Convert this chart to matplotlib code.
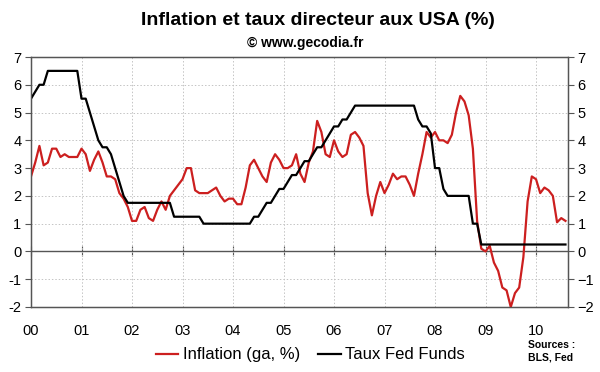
import matplotlib
matplotlib.use("Agg")
import matplotlib.pyplot as plt
import numpy as np

plt.rcParams['font.family'] = ['Liberation Sans', 'DejaVu Sans']

# Monthly data, Jan 2000 -> Aug 2010
inflation = [
    2.7, 3.2, 3.8, 3.1, 3.2, 3.7, 3.7, 3.4, 3.5, 3.4, 3.4, 3.4,   # 2000
    3.7, 3.5, 2.9, 3.3, 3.6, 3.2, 2.7, 2.7, 2.6, 2.1, 1.9, 1.6,   # 2001
    1.1, 1.1, 1.5, 1.6, 1.2, 1.1, 1.5, 1.8, 1.5, 2.0, 2.2, 2.4,   # 2002
    2.6, 3.0, 3.0, 2.2, 2.1, 2.1, 2.1, 2.2, 2.3, 2.0, 1.8, 1.9,   # 2003
    1.9, 1.7, 1.7, 2.3, 3.1, 3.3, 3.0, 2.7, 2.5, 3.2, 3.5, 3.3,   # 2004
    3.0, 3.0, 3.1, 3.5, 2.8, 2.5, 3.2, 3.6, 4.7, 4.3, 3.5, 3.4,   # 2005
    4.0, 3.6, 3.4, 3.5, 4.2, 4.3, 4.1, 3.8, 2.1, 1.3, 2.0, 2.5,   # 2006
    2.1, 2.4, 2.8, 2.6, 2.7, 2.7, 2.4, 2.0, 2.8, 3.5, 4.3, 4.1,   # 2007
    4.3, 4.0, 4.0, 3.9, 4.2, 5.0, 5.6, 5.4, 4.9, 3.7, 1.1, 0.1,   # 2008
    0.0, 0.2, -0.4, -0.7, -1.3, -1.4, -2.0, -1.5, -1.3, -0.2, 1.8, 2.7,  # 2009
    2.6, 2.1, 2.3, 2.2, 2.0, 1.05, 1.2, 1.1,                      # 2010
]
fed_funds = [
    5.5, 5.75, 6.0, 6.0, 6.5, 6.5, 6.5, 6.5, 6.5, 6.5, 6.5, 6.5,
    5.5, 5.5, 5.0, 4.5, 4.0, 3.75, 3.75, 3.5, 3.0, 2.5, 2.0, 1.75,
    1.75, 1.75, 1.75, 1.75, 1.75, 1.75, 1.75, 1.75, 1.75, 1.75, 1.25, 1.25,
    1.25, 1.25, 1.25, 1.25, 1.25, 1.0, 1.0, 1.0, 1.0, 1.0, 1.0, 1.0,
    1.0, 1.0, 1.0, 1.0, 1.0, 1.25, 1.25, 1.5, 1.75, 1.75, 2.0, 2.25,
    2.25, 2.5, 2.75, 2.75, 3.0, 3.25, 3.25, 3.5, 3.75, 3.75, 4.0, 4.25,
    4.5, 4.5, 4.75, 4.75, 5.0, 5.25, 5.25, 5.25, 5.25, 5.25, 5.25, 5.25,
    5.25, 5.25, 5.25, 5.25, 5.25, 5.25, 5.25, 5.25, 4.75, 4.5, 4.5, 4.25,
    3.0, 3.0, 2.25, 2.0, 2.0, 2.0, 2.0, 2.0, 2.0, 1.0, 1.0, 0.25,
    0.25, 0.25, 0.25, 0.25, 0.25, 0.25, 0.25, 0.25, 0.25, 0.25, 0.25, 0.25,
    0.25, 0.25, 0.25, 0.25, 0.25, 0.25, 0.25, 0.25,
]
year_labels = ["00", "01", "02", "03", "04", "05", "06", "07", "08", "09", "10"]

months = np.arange(len(inflation))
red = "#cc1f1f"
frame = "#555555"

fig = plt.figure(figsize=(6, 3.72), dpi=100)
ax = fig.add_axes([31 / 600, 1 - 307 / 372, 537 / 600, 250 / 372])

ax.plot(months, inflation, color=red, lw=1.6, label="Inflation (ga, %)", zorder=3)
ax.plot(months, fed_funds, color="black", lw=1.6, label="Taux Fed Funds", zorder=3)

ax.set_xlim(0, 127.6)
ax.set_ylim(-2, 7)
ax.set_yticks(range(-2, 8))
ax.set_yticklabels([str(v) for v in range(-2, 8)])
ax.set_xticks(np.arange(len(year_labels)) * 12)
ax.set_xticklabels(year_labels)
ax.tick_params(axis="x", length=0, pad=12, labelsize=10.5)
ax.tick_params(axis="y", direction="out", length=4, color=frame, labelsize=10.5, pad=3)
ax.grid(True, color="#c4c4c4", linestyle=(0, (1.5, 2)), lw=0.7)
for s in ax.spines.values():
    s.set_color(frame)
    s.set_linewidth(1.0)

# category axis drawn at y = 0
ax.axhline(0, color=frame, lw=1.0, zorder=2)
zero_axis = ax.secondary_xaxis(2 / 9)
zero_axis.set_xticks(np.arange(len(year_labels)) * 12)
zero_axis.tick_params(direction="inout", length=7, color=frame, labelbottom=False)
zero_axis.spines["bottom"].set_visible(False)

ax2 = ax.twinx()
ax2.set_ylim(-2, 7)
ax2.set_yticks(range(-2, 8))
ax2.tick_params(axis="y", direction="out", length=4, color=frame, labelsize=10.5, pad=3)
for s in ax2.spines.values():
    s.set_color(frame)

fig.text(0.53, 0.946, "Inflation et taux directeur aux USA (%)", ha="center", va="center",
         fontsize=14, fontweight="bold")
fig.text(0.508, 0.884, "\u00a9 www.gecodia.fr", ha="center", va="center",
         fontsize=10, fontweight="bold")

fig.legend(loc="center", bbox_to_anchor=(0.517, 0.046), ncol=2, frameon=False,
           fontsize=12, handlelength=1.35, handletextpad=0.25, columnspacing=1.1)
fig.text(528 / 600, 1 - 345 / 372, "Sources :", ha="left", va="center",
         fontsize=7.5, fontweight="bold")
fig.text(528 / 600, 1 - 358 / 372, "BLS, Fed", ha="left", va="center",
         fontsize=7.5, fontweight="bold")

fig.savefig("out.png", dpi=100)
